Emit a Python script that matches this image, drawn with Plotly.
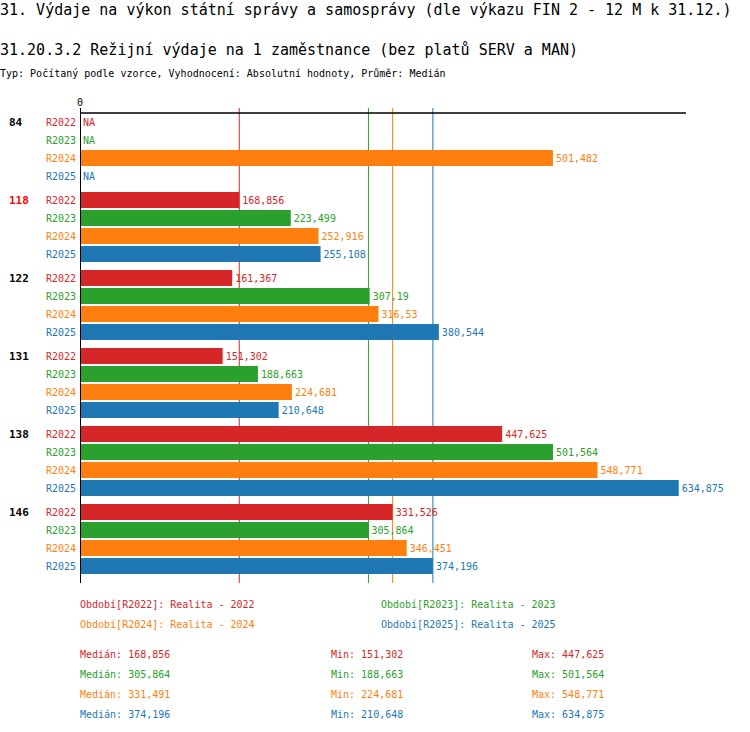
import plotly.graph_objects as go

# data (thousands, shown with decimal comma)
groups = ["84", "118", "122", "131", "138", "146"]
series = ["R2022", "R2023", "R2024", "R2025"]
series_names = ["Realita - 2022", "Realita - 2023", "Realita - 2024", "Realita - 2025"]
colors = ["#d62728", "#2ca02c", "#ff7f0e", "#1f77b4"]

r2022 = [None, 168.856, 161.367, 151.302, 447.625, 331.526]
r2023 = [None, 223.499, 307.19, 188.663, 501.564, 305.864]
r2024 = [501.482, 252.916, 316.53, 224.681, 548.771, 346.451]
r2025 = [None, 255.108, 380.544, 210.648, 634.875, 374.196]
values = [r2022, r2023, r2024, r2025]

medians = [168.856, 305.864, 331.491, 374.196]
mins = [151.302, 188.663, 224.681, 210.648]
maxs = [447.625, 501.564, 548.771, 634.875]

highlight = "118"

FONT = "DejaVu Sans Mono"
W, H = 750, 732
L, R, T, B = 80, 64, 108, 149
PW, PH = W - L - R, H - T - B
GAP = 1 / 3  # gap between groups, in rows


def fmt(v):
    s = f"{v:.3f}".rstrip("0").rstrip(".")
    return s.replace(".", ",")


def px(x):
    return (x - L) / PW


def py(y):
    return (H - B - y) / PH


def pos(g, s):
    return g * (len(series) + GAP) + s


fig = go.Figure()
for s, name in enumerate(series):
    ys = [pos(g, s) for g in range(len(groups))]
    fig.add_trace(go.Bar(
        x=values[s], y=ys, orientation="h", width=16 / 18,
        marker=dict(color=colors[s], line=dict(width=0)),
        text=[fmt(v) if v is not None else "" for v in values[s]],
        textposition="outside", cliponaxis=False, constraintext="none",
        textfont=dict(family=FONT, size=10, color=colors[s]),
        name=name, showlegend=False, hoverinfo="skip",
    ))

ann = []
shapes = []

ann.append(dict(text="31. Výdaje na výkon státní správy a samosprávy (dle výkazu FIN 2 - 12 M k 31.12.)",
                x=px(0), y=py(10), font=dict(size=15)))
ann.append(dict(text="31.20.3.2 Režijní výdaje na 1 zaměstnance (bez platů SERV a MAN)",
                x=px(0), y=py(50), font=dict(size=15)))
ann.append(dict(text="Typ: Počítaný podle vzorce, Vyhodnocení: Absolutní hodnoty, Průměr: Medián",
                x=px(0), y=py(73), font=dict(size=10)))
for a in ann:
    a.update(xref="paper", yref="paper", xanchor="left", yanchor="middle", xshift=-2,
             showarrow=False)

ann.append(dict(text="0", x=0, xref="x", y=py(103), yref="paper", yanchor="middle",
                showarrow=False, font=dict(size=10, color="black")))

for g, grp in enumerate(groups):
    ann.append(dict(text="<b>%s</b>" % grp, x=px(9), xref="paper", y=pos(g, 0), yref="y",
                    xanchor="left", yanchor="middle", xshift=-2, showarrow=False,
                    font=dict(size=11, color="#ff0000" if grp == highlight else "black")))
    for s, name in enumerate(series):
        ann.append(dict(text=name, x=px(78), xref="paper", y=pos(g, s), yref="y",
                        xanchor="right", yanchor="middle", showarrow=False,
                        font=dict(size=10, color=colors[s])))
        if values[s][g] is None:
            ann.append(dict(text="NA", x=0, xref="x", y=pos(g, s), yref="y", xanchor="left",
                            yanchor="middle", xshift=1, showarrow=False,
                            font=dict(size=10, color=colors[s])))

# legend text and stats under the plot
leg_x = [80, 381, 80, 381]
leg_y = [604, 604, 624, 624]
for s, name in enumerate(series):
    ann.append(dict(text="Období[%s]: %s" % (series[s], series_names[s]),
                    x=px(leg_x[s]), y=py(leg_y[s]), xref="paper", yref="paper",
                    xanchor="left", yanchor="middle", xshift=-2, showarrow=False,
                    font=dict(size=10, color=colors[s])))
    row_y = 654 + 20 * s
    for label, arr, xx in [("Medián", medians, 80), ("Min", mins, 331), ("Max", maxs, 532)]:
        ann.append(dict(text="%s: %s" % (label, fmt(arr[s])), x=px(xx), y=py(row_y),
                        xref="paper", yref="paper", xanchor="left", yanchor="middle",
                        xshift=-2, showarrow=False, font=dict(size=10, color=colors[s])))

for s in range(len(series)):
    shapes.append(dict(type="line", xref="x", yref="paper", x0=medians[s], x1=medians[s],
                       y0=0, y1=1, layer="below", line=dict(color=colors[s], width=1)))
shapes.append(dict(type="line", xref="paper", yref="y", x0=0, x1=1, y0=-0.5, y1=-0.5,
                   line=dict(color="black", width=1.5)))
shapes.append(dict(type="line", xref="x", yref="paper", x0=0, x1=0, y0=0, y1=1,
                   line=dict(color="black", width=2)))

first_px = 122
y_top = -(first_px - T) / 18
y_bot = y_top + PH / 18

fig.update_layout(
    width=W, height=H,
    margin=dict(l=L, r=R, t=T, b=B),
    paper_bgcolor="white", plot_bgcolor="white",
    font=dict(family=FONT, color="black"),
    barmode="overlay",
    xaxis=dict(range=[0, 642.6], showgrid=False, zeroline=False, showticklabels=False,
               showline=False, fixedrange=True),
    yaxis=dict(range=[y_bot, y_top], showgrid=False, zeroline=False, showticklabels=False,
               showline=False, fixedrange=True),
    annotations=ann,
    shapes=shapes,
)

fig.write_html("out.html", config={"displayModeBar": False},
               post_script="document.body.style.margin='0px';")
